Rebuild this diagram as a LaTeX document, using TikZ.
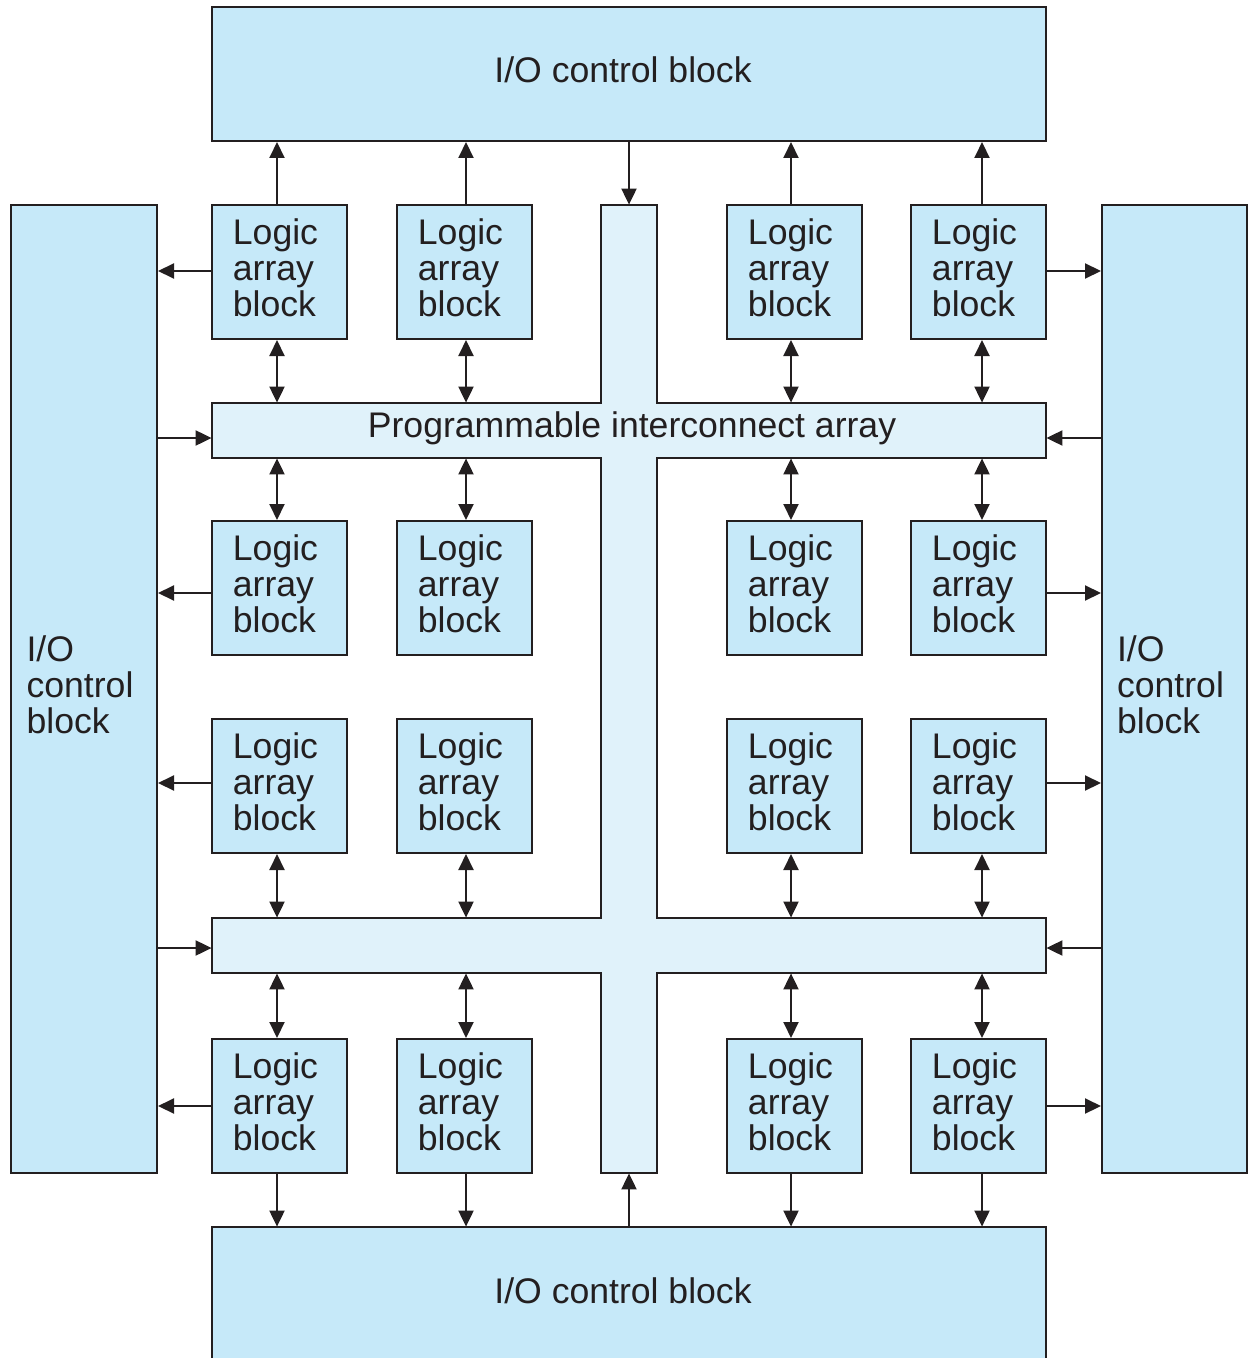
\documentclass[tikz,border=0pt]{standalone}
\usepackage{fontspec}
\setmainfont{Liberation Sans}
\usetikzlibrary{arrows.meta}
\definecolor{blockblue}{HTML}{C6E9F9}
\definecolor{busblue}{HTML}{E0F2FA}
\definecolor{ink}{HTML}{231F20}

\begin{document}
\begin{tikzpicture}[x=0.5pt,y=-0.5pt,
  every node/.style={font=\fontsize{17.8}{18}\selectfont, text=ink},
  box/.style={draw=ink, line width=1pt, fill=blockblue, inner sep=0pt, align=left},
  lab/.style={box, minimum width=67.5pt, minimum height=67pt},
  txt/.style={inner sep=0pt, align=left},
  ghost/.style={draw=none, fill=none, inner sep=0pt},
  arr/.style={draw=ink, line width=1pt, -{Triangle[length=8pt,width=7.5pt]}},
  darr/.style={draw=ink, line width=1pt, {Triangle[length=8pt,width=7.5pt]}-{Triangle[length=8pt,width=7.5pt]}}]

\useasboundingbox (0,0) rectangle (1248,1358);

% I/O control blocks
\node[box, minimum width=417pt, minimum height=67pt] (tio) at (629,74) {};
\node at (623,70) {I/O control block};
\node[ghost, minimum width=417pt, minimum height=65.5pt] (bio) at (629,1292.5) {};
\fill[blockblue] (bio.south west) rectangle (bio.north east);
\draw[ink, line width=1pt] (bio.south west) |- (bio.north east) -- (bio.south east);
\node at (623,1291) {I/O control block};
\node[box, minimum width=73pt, minimum height=484pt] (lio) at (84,689) {};
\node[txt] at ([shift={(-4,-4)}]lio.center) {I/O\\control\\block};
\node[box, minimum width=72.5pt, minimum height=484pt] (rio) at (1174.5,689) {};
\node[txt] at ([shift={(-4,-4)}]rio.center) {I/O\\control\\block};

% Programmable interconnect array (cross shaped)
\draw[ink, line width=1pt, fill=busblue]
  (601,205) -- (657,205) -- (657,403) -- (1046,403) -- (1046,458) -- (657,458)
  -- (657,918) -- (1046,918) -- (1046,973) -- (657,973) -- (657,1173)
  -- (601,1173) -- (601,973) -- (212,973) -- (212,918) -- (601,918)
  -- (601,458) -- (212,458) -- (212,403) -- (601,403) -- cycle;
\node[ghost, minimum width=28pt, minimum height=484pt] (vbar) at (629,689) {};
\node[ghost, minimum width=417pt, minimum height=27.5pt] (hbar1) at (629,430.5) {};
\node[ghost, minimum width=417pt, minimum height=27.5pt] (hbar2) at (629,945.5) {};
\node at (632,428) {Programmable interconnect array};

% Logic array blocks
\foreach \r/\cy in {1/272,2/588,3/786,4/1106}{
  \foreach \c/\cx in {1/279.5,2/464.5,3/794.5,4/978.5}{
    \node[lab] (l\r\c) at (\cx,\cy) {};
    \node[txt] at ([shift={(-4,-4)}]l\r\c.center) {Logic\\array\\block};
  }
}

% Vertical and horizontal tracks of the connectors
\foreach \c/\ax in {1/277,2/466,3/791,4/982}{ \coordinate (ax\c) at (\ax,0); }
\foreach \r/\ay in {1/271,2/593,3/783,4/1106}{ \coordinate (ay\r) at (0,\ay); }
\coordinate (by1) at (0,438);
\coordinate (by2) at (0,948);

% Connections to the top and bottom I/O blocks and to the buses
\foreach \c in {1,2,3,4}{
  \draw[arr] (l1\c.north -| ax\c) -- (tio.south -| ax\c);
  \draw[arr] (l4\c.south -| ax\c) -- (bio.north -| ax\c);
  \draw[darr] (l1\c.south -| ax\c) -- (hbar1.north -| ax\c);
  \draw[darr] (l2\c.north -| ax\c) -- (hbar1.south -| ax\c);
  \draw[darr] (l3\c.south -| ax\c) -- (hbar2.north -| ax\c);
  \draw[darr] (l4\c.north -| ax\c) -- (hbar2.south -| ax\c);
}
\draw[arr] (tio.south -| vbar) -- (vbar.north);
\draw[arr] (bio.north -| vbar) -- (vbar.south);

% Connections to the side I/O blocks
\foreach \r in {1,2,3,4}{
  \draw[arr] (l\r1.west |- ay\r) -- (lio.east |- ay\r);
  \draw[arr] (l\r4.east |- ay\r) -- (rio.west |- ay\r);
}
\draw[arr] (lio.east |- by1) -- (hbar1.west |- by1);
\draw[arr] (lio.east |- by2) -- (hbar2.west |- by2);
\draw[arr] (rio.west |- by1) -- (hbar1.east |- by1);
\draw[arr] (rio.west |- by2) -- (hbar2.east |- by2);
\end{tikzpicture}
\end{document}
